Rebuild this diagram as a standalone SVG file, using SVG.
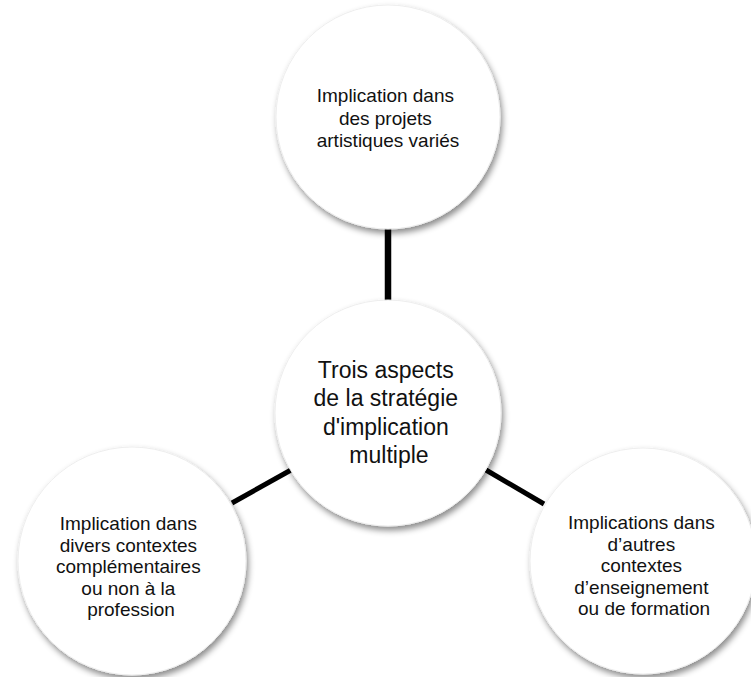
<svg xmlns="http://www.w3.org/2000/svg" width="751" height="677" viewBox="0 0 751 677">
  <defs>
    <filter id="shadow" x="-20%" y="-20%" width="140%" height="150%">
      <feDropShadow dx="2" dy="4" stdDeviation="3" flood-color="#000" flood-opacity="0.45"/>
    </filter>
    <style>
      .bubble { fill: #ffffff; stroke: #eeeeee; stroke-width: 1; filter: url(#shadow); }
      .link { stroke: #000000; stroke-width: 5; stroke-linecap: butt; fill: none; }
      .label { font-family: "Liberation Sans", Arial, sans-serif; font-size: 19px; fill: #111111; text-anchor: middle; }
      .hub { font-size: 23px; }
    </style>
  </defs>

  <rect width="751" height="677" fill="#ffffff"/>

  <!-- connectors between the hub and the three outer bubbles -->
  <g id="connectors">
    <line class="link" x1="388" y1="228" x2="388" y2="301" style="stroke-width:6.5"/>
    <line class="link" x1="232" y1="503" x2="291" y2="470"/>
    <line class="link" x1="486" y1="470" x2="544" y2="504"/>
  </g>

  <g id="node-top">
    <circle class="bubble" cx="388" cy="117" r="112"/>
    <text class="label" x="388">
      <tspan x="388" y="102">Implication dans</tspan>
      <tspan x="388" y="125">des projets</tspan>
      <tspan x="388" y="147">artistiques variés</tspan>
    </text>
  </g>

  <g id="node-center">
    <circle class="bubble" cx="388" cy="413" r="113"/>
    <text class="label hub" x="389">
      <tspan x="389" y="378">Trois aspects</tspan>
      <tspan x="389" y="406">de la stratégie</tspan>
      <tspan x="389" y="435">d'implication</tspan>
      <tspan x="389" y="463">multiple</tspan>
    </text>
  </g>

  <g id="node-left">
    <circle class="bubble" cx="132" cy="561" r="114"/>
    <text class="label" x="131">
      <tspan x="131" y="530">Implication dans</tspan>
      <tspan x="131" y="552">divers contextes</tspan>
      <tspan x="131" y="573">complémentaires</tspan>
      <tspan x="131" y="595">ou non à la</tspan>
      <tspan x="131" y="616">profession</tspan>
    </text>
  </g>

  <g id="node-right">
    <circle class="bubble" cx="643" cy="561" r="113"/>
    <text class="label" x="644">
      <tspan x="644" y="529">Implications dans</tspan>
      <tspan x="644" y="551">d’autres</tspan>
      <tspan x="644" y="572">contextes</tspan>
      <tspan x="644" y="594">d’enseignement</tspan>
      <tspan x="644" y="615">ou de formation</tspan>
    </text>
  </g>
</svg>
